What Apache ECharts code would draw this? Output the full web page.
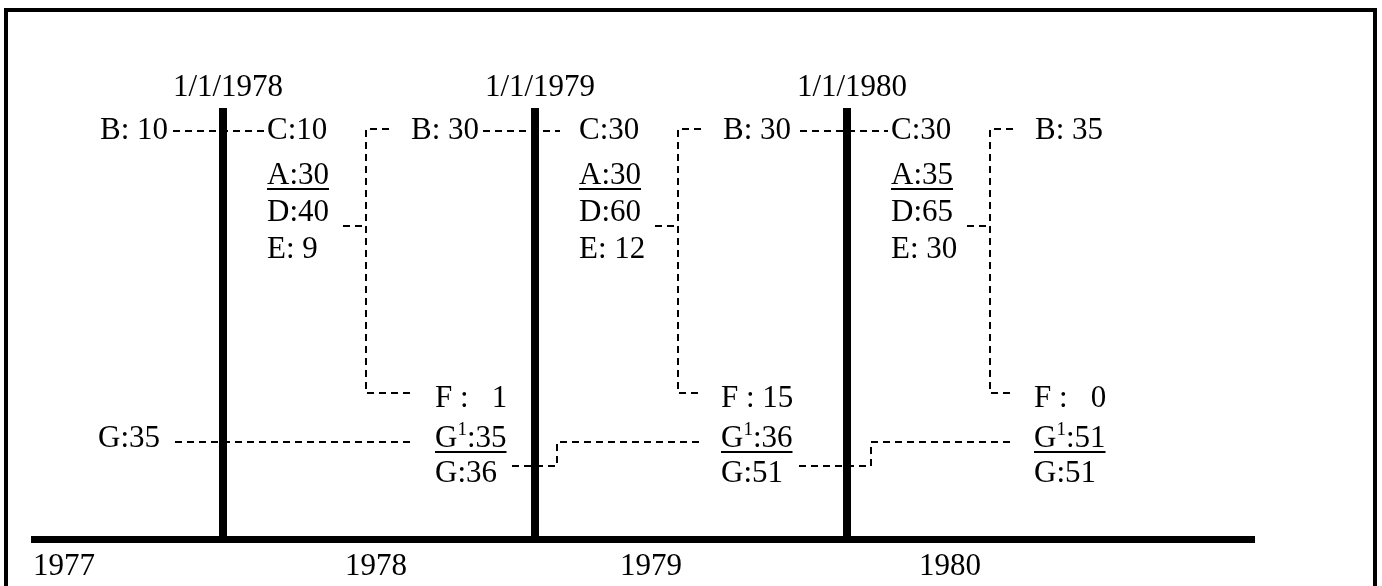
<!DOCTYPE html>
<html><head><meta charset="utf-8">
<script src="https://cdn.jsdelivr.net/npm/echarts@6/dist/echarts.min.js"></script>
<style>html,body{margin:0;padding:0;background:#fff}#c{width:1382px;height:586px}</style>
</head><body><div id="c"></div>
<script>
// ---------------- data ----------------
const years = [1977, 1978, 1979, 1980];
const boundaries = ['1/1/1978', '1/1/1979', '1/1/1980'];
const bValues = [10, 30, 30, 35];
const cValues = [10, 30, 30];
const aValues = [30, 30, 35];
const dValues = [40, 60, 65];
const eValues = [9, 12, 30];
const fValues = [1, 15, 0];
const g1Values = [35, 36, 51];
const gValues = [35, 36, 51, 51];

// ---------------- layout (x in years, offsets in px from each boundary; y in rows) ----------------
const PX = 312, BAR0 = 223, ROW0 = 131, ROWH = 38, W = 1382, H = 586;
const xMin = 1978 - BAR0 / PX, xMax = xMin + W / PX;
const yMin = -ROW0 / ROWH, yMax = yMin + H / ROWH;
const bx = (k, off) => 1978 + k + off / PX;
const px2x = p => 1978 + (p - BAR0) / PX;
const py = p => (p - ROW0) / ROWH;
const R = {top: py(131), A: py(176), D: py(213), E: py(250), DE: py(226), F: py(399), G1: py(439), G: py(474),
  brTop: py(129), fDash: py(393), g1Dash: py(442), gDash: py(466),
  date: py(88), barTop: py(108), axis: py(539.5), year: py(567)};
const yearPx = [64, 376, 651, 950];
const dashL = [-50, -52, -47], dashR = [41, 25, 41];
const colC = 44, stubL = 120, brk = 143, armTop = 166, botEnd = [192, 166, 167], fCol = [212, 186, 187];
const gStart = [null, -23, -48], gStep = [null, 22, 24], gEnd = [null, 168, 165];
const FONT = 31, SUP = 19, FAM = '"Liberation Serif","Times New Roman",serif';

// ---------------- element lists ----------------
const T = [], P = [], K = [];
boundaries.forEach((lab, k) => {
  T.push({x: bx(k, 5), y: R.date, text: lab, align: 'center'});
  K.push({pts: [[bx(k, 0), R.barTop], [bx(k, 0), R.axis]], w: 8});
});
K.push({pts: [[px2x(31), R.axis], [px2x(1255), R.axis]], w: 7});
years.forEach((yv, i) => T.push({x: px2x(yearPx[i]), y: R.year, text: String(yv), align: 'center'}));

// B labels
T.push({x: bx(0, -55), y: R.top, text: 'B: ' + bValues[0], align: 'right'});
for (let i = 1; i < bValues.length; i++) T.push({x: bx(i - 1, 188), y: R.top, text: 'B: ' + bValues[i], align: 'left'});

boundaries.forEach((_, k) => {
  P.push([[bx(k, dashL[k]), R.top], [bx(k, dashR[k]), R.top]]);
  T.push({x: bx(k, colC), y: R.top, text: 'C:' + cValues[k], align: 'left'});
  T.push({x: bx(k, colC), y: R.A, text: 'A:' + aValues[k], align: 'left', underline: true});
  T.push({x: bx(k, colC), y: R.D, text: 'D:' + dValues[k], align: 'left'});
  T.push({x: bx(k, colC), y: R.E, text: 'E: ' + eValues[k], align: 'left'});
  P.push([[bx(k, stubL), R.DE], [bx(k, brk), R.DE]]);
  P.push([[bx(k, armTop), R.brTop], [bx(k, brk), R.brTop], [bx(k, brk), R.fDash], [bx(k, botEnd[k]), R.fDash]]);
  T.push({x: bx(k, fCol[k]), y: R.F, text: 'F : ' + (fValues[k] < 10 ? '  ' : '') + fValues[k], align: 'left'});
  T.push({x: bx(k, fCol[k]), y: R.G1, sup: true, text: ':' + g1Values[k], align: 'left', underline: true});
  T.push({x: bx(k, fCol[k]), y: R.G, text: 'G:' + gValues[k + 1], align: 'left'});
  if (k > 0) P.push([[bx(k, gStart[k]), R.gDash], [bx(k, gStep[k]), R.gDash], [bx(k, gStep[k]), R.g1Dash], [bx(k, gEnd[k]), R.g1Dash]]);
});
T.push({x: bx(0, -63), y: R.G1, text: 'G:' + gValues[0], align: 'right'});
P.push([[bx(0, -48), R.g1Dash], [bx(0, 189), R.g1Dash]]);

// ---------------- rendering ----------------
const mctx = document.createElement('canvas').getContext('2d');
function tw(s, size) { mctx.font = size + 'px ' + FAM; return mctx.measureText(s).width; }
const txt = (s, x, y, size, align) => ({type: 'text', style: {text: s, x: x, y: y, fill: '#000',
  font: size + 'px ' + FAM, align: align || 'left', verticalAlign: 'middle'}});

function renderText(params, api) {
  const t = T[params.dataIndex];
  const p = api.coord([t.x, t.y]);
  const ch = [];
  let left = p[0], width;
  if (t.sup) {
    const wG = tw('G', FONT), w1 = tw('1', SUP), wr = tw(t.text, FONT);
    ch.push(txt('G', p[0], p[1], FONT));
    ch.push(txt('1', p[0] + wG, p[1] - 9, SUP));
    ch.push(txt(t.text, p[0] + wG + w1, p[1], FONT));
    width = wG + w1 + wr;
  } else {
    ch.push(txt(t.text, p[0], p[1], FONT, t.align));
    width = tw(t.text, FONT);
    if (t.align === 'center') left = p[0] - width / 2;
    else if (t.align === 'right') left = p[0] - width;
  }
  if (t.underline) ch.push({type: 'rect', shape: {x: left, y: p[1] + 12, width: width, height: 2}, style: {fill: '#000'}});
  return {type: 'group', children: ch};
}
function renderPath(params, api) {
  const pts = P[params.dataIndex].map(q => api.coord(q));
  return {type: 'polyline', shape: {points: pts}, style: {stroke: '#000', lineWidth: 2, lineDash: [7, 5], fill: null}};
}
function renderThick(params, api) {
  const k = K[params.dataIndex];
  const pts = k.pts.map(q => api.coord(q));
  return {type: 'polyline', shape: {points: pts}, style: {stroke: '#000', lineWidth: k.w, fill: null}};
}

const chart = echarts.init(document.getElementById('c'), null, {renderer: 'canvas'});
chart.setOption({
  animation: false,
  backgroundColor: '#fff',
  grid: {left: 0, right: 0, top: 0, bottom: 0, containLabel: false},
  xAxis: {type: 'value', min: xMin, max: xMax, show: false},
  yAxis: {type: 'value', min: yMin, max: yMax, inverse: true, show: false},
  graphic: [{type: 'rect', z: 100, shape: {x: 6, y: 10, width: 1369, height: 620}, style: {stroke: '#000', lineWidth: 4, fill: null}}],
  series: [
    {type: 'custom', renderItem: renderThick, data: K.map(k => k.pts[0]), clip: false, silent: true},
    {type: 'custom', renderItem: renderPath, data: P.map(p => p[0]), clip: false, silent: true},
    {type: 'custom', renderItem: renderText, data: T.map(t => [t.x, t.y]), clip: false, silent: true}
  ]
});
</script></body></html>
